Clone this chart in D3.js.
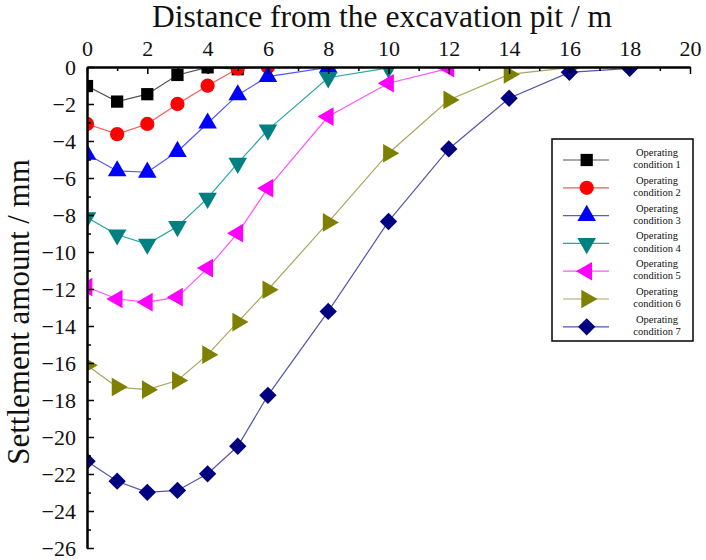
<!DOCTYPE html>
<html>
<head>
<meta charset="utf-8">
<script src="https://cdn.jsdelivr.net/npm/d3@7"></script>
<style>
  body { margin: 0; background: #fff; }
  svg text { font-family: "Liberation Serif", "Times New Roman", "DejaVu Serif", serif !important; fill: #111; }
</style>
</head>
<body>
<div class="chart"></div>
<script>
var distance = [0, 1, 2, 3, 4, 5, 6, 8, 10, 12, 14, 16, 18];

var cond1 = [-1.03, -1.87, -1.47, -0.43, -0.02, -0.12];
var cond2 = [-3.08, -3.63, -3.08, -2.0, -1.01, -0.08, 0];
var cond3 = [-4.72, -5.62, -5.69, -4.57, -3.04, -1.51, -0.52, -0.02];
var cond4 = [-8.14, -9.07, -9.57, -8.62, -7.09, -5.2, -3.4, -0.58, -0.05];
var cond5 = [-11.9, -12.54, -12.71, -12.44, -10.87, -8.98, -6.55, -2.68, -0.88, -0.07];
var cond6 = [-16.12, -17.3, -17.44, -16.95, -15.55, -13.79, -12.04, -8.4, -4.66, -1.78, -0.4, -0.03];
var cond7 = [-21.31, -22.39, -22.99, -22.89, -21.99, -20.5, -17.75, -13.21, -8.35, -4.43, -1.69, -0.29, -0.07];

var names = ["Operating condition 1", "Operating condition 2", "Operating condition 3",
  "Operating condition 4", "Operating condition 5", "Operating condition 6", "Operating condition 7"];
var xTicks = [0, 2, 4, 6, 8, 10, 12, 14, 16, 18, 20];
var yTicks = [0, -2, -4, -6, -8, -10, -12, -14, -16, -18, -20, -22, -24, -26];

var colors = ["#000000", "#ff0000", "#0000ff", "#008080", "#ff00ff", "#808000", "#000080"];
var lineColors = ["#555555", "#ff5555", "#5555ff", "#2aa5a5", "#ff55ff", "#a8a860", "#5555a8"];

var serif = '"Liberation Serif", "Times New Roman", serif';

var series = [cond1, cond2, cond3, cond4, cond5, cond6, cond7].map(function(vals, i) {
  return {
    name: names[i],
    points: vals.map(function(v, j) { return { x: distance[j], y: v }; })
  };
});

var svgWidth = 706, svgHeight = 560;
var svg = d3.select(".chart").append("svg")
  .attr("width", svgWidth)
  .attr("height", svgHeight);

var x = d3.scaleLinear().domain([0, 20]).range([87, 690]);
var y = d3.scaleLinear().domain([0, -26]).range([67, 548]);

// marker shapes: [symbol type, rotation, size]
var shapes = [
  [d3.symbolSquare, 0, 150],
  [d3.symbolCircle, 0, 160],
  [d3.symbolTriangle, 0, 150],
  [d3.symbolTriangle, 180, 150],
  [d3.symbolTriangle, -90, 150],
  [d3.symbolTriangle, 90, 150],
  [d3.symbolSquare, 45, 150]
];

svg.append("clipPath").attr("id", "plotClip")
  .append("rect")
  .attr("x", x(0)).attr("y", y(0))
  .attr("width", x(20) - x(0)).attr("height", y(-26) - y(0) + 10);

var plot = svg.append("g").attr("clip-path", "url(#plotClip)");

var line = d3.line()
  .x(function(d) { return x(d.x); })
  .y(function(d) { return y(d.y); });

series.forEach(function(s, i) {
  plot.append("path")
    .datum(s.points)
    .attr("fill", "none")
    .attr("stroke", lineColors[i])
    .attr("stroke-width", 1.2)
    .attr("d", line);
});

series.forEach(function(s, i) {
  var sym = d3.symbol().type(shapes[i][0]).size(shapes[i][2]);
  plot.selectAll(".m" + i)
    .data(s.points)
    .enter()
    .append("path")
    .attr("class", "m" + i)
    .attr("transform", function(d) {
      return "translate(" + x(d.x) + "," + y(d.y) + ") rotate(" + shapes[i][1] + ")";
    })
    .attr("d", sym)
    .attr("fill", colors[i]);
});

// top axis
var topAxis = svg.append("g")
  .attr("transform", "translate(0," + y(0) + ")")
  .call(d3.axisTop(x).tickValues(xTicks).tickSizeInner(-7).tickSizeOuter(0).tickPadding(11).tickFormat(d3.format("d")));
topAxis.attr("font-family", serif);
topAxis.selectAll("text").style("font-size", "22px").attr("dy", "0");
svg.append("g")
  .attr("transform", "translate(0," + y(0) + ")")
  .call(d3.axisTop(x).tickValues(d3.range(1, 20, 2)).tickSizeInner(-4).tickSizeOuter(0).tickFormat(""));

// left axis
var leftAxis = svg.append("g")
  .attr("transform", "translate(" + x(0) + ",0)")
  .call(d3.axisLeft(y).tickValues(yTicks).tickSizeInner(-7).tickSizeOuter(0).tickPadding(11));
leftAxis.attr("font-family", serif);
leftAxis.selectAll("text").style("font-size", "22px");
svg.append("g")
  .attr("transform", "translate(" + x(0) + ",0)")
  .call(d3.axisLeft(y).tickValues(d3.range(-1, -26, -2)).tickSizeInner(-4).tickSizeOuter(0).tickFormat(""));

svg.selectAll(".domain").attr("stroke", "#000").attr("stroke-width", 2);
svg.selectAll(".tick line").attr("stroke", "#000").attr("stroke-width", 1.5);

// axis titles
svg.append("text")
  .attr("x", 382).attr("y", 27)
  .attr("text-anchor", "middle")
  .attr("font-family", serif)
  .style("font-size", "31.5px")
  .text("Distance from the excavation pit / m");

svg.append("text")
  .attr("transform", "translate(29," + 312 + ") rotate(-90)")
  .attr("text-anchor", "middle")
  .attr("font-family", serif)
  .style("font-size", "31px")
  .text("Settlement amount / mm");

// legend
var legend = svg.append("g").attr("font-family", serif);
legend.append("rect")
  .attr("x", 552).attr("y", 139)
  .attr("width", 141).attr("height", 202)
  .attr("fill", "#fff").attr("stroke", "#000").attr("stroke-width", 1.5);

series.forEach(function(s, i) {
  var ly = 160 + i * 27.8;
  var row = legend.append("g");
  row.append("line")
    .attr("x1", 563).attr("x2", 609)
    .attr("y1", ly).attr("y2", ly)
    .attr("stroke", lineColors[i]).attr("stroke-width", 1.2);
  row.append("path")
    .attr("transform", "translate(586.7," + ly + ") rotate(" + shapes[i][1] + ")")
    .attr("d", d3.symbol().type(shapes[i][0]).size(shapes[i][2]))
    .attr("fill", colors[i]);
  var words = s.name.split(" ");
  row.append("text")
    .attr("x", 657).attr("y", ly - 4)
    .attr("text-anchor", "middle")
    .style("font-size", "10.5px")
    .text(words[0]);
  row.append("text")
    .attr("x", 657).attr("y", ly + 8.2)
    .attr("text-anchor", "middle")
    .style("font-size", "10.5px")
    .text(words[1] + " " + words[2]);
});
</script>
</body>
</html>
